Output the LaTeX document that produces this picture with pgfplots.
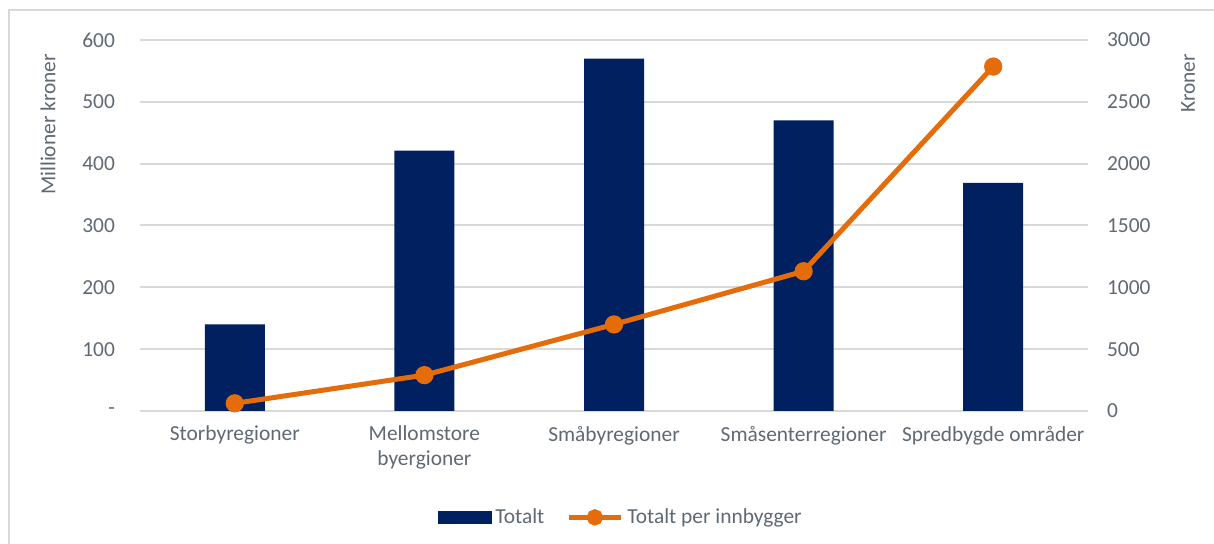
\documentclass[border=0pt]{standalone}
\usepackage{fontspec}
\setmainfont{Carlito}
\usepackage{pgfplots}
\pgfplotsset{compat=1.18}
\definecolor{barblue}{RGB}{0,32,96}
\definecolor{lineorange}{RGB}{228,108,10}
\definecolor{txtgrey}{RGB}{95,105,115}
\definecolor{gridgrey}{RGB}{217,217,217}
\begin{document}
\begin{tikzpicture}[x=1pt,y=1pt]
\useasboundingbox (0,0) rectangle (607,272);
\draw[gridgrey, line width=1pt] (4.5,0) -- (4.5,267) -- (607,267);
\begin{axis}[
  at={(70pt,66.5pt)}, anchor=south west,
  scale only axis, width=474pt, height=185.5pt,
  xmin=-0.5, xmax=4.5, ymin=0, ymax=600,
  xtick={0,1,2,3,4},
  xticklabels={Storbyregioner,{Mellomstore\\byergioner},Småbyregioner,Småsenterregioner,Spredbygde områder},
  xticklabel style={align=center, text=txtgrey, font=\fontsize{10.7}{12.5}\selectfont, yshift=-4pt},
  ytick={0,100,200,300,400,500,600},
  yticklabels={-,100,200,300,400,500,600},
  yticklabel style={text=txtgrey, font=\fontsize{10.7}{12.5}\selectfont, xshift=-9pt},
  axis line style={draw=none},
  major tick length=0pt,
  ymajorgrids, grid style={gridgrey, line width=1pt},
  clip=false,
]
\addplot[ybar, bar width=30pt, fill=barblue, draw=none, bar shift=0pt]
  coordinates {(0,140) (1,421) (2,570) (3,470) (4,369)};
\end{axis}
\begin{axis}[
  at={(70pt,66.5pt)}, anchor=south west,
  scale only axis, width=474pt, height=185.5pt,
  xmin=-0.5, xmax=4.5, ymin=0, ymax=3000,
  axis x line=none,
  axis y line*=right,
  axis line style={draw=none},
  major tick length=0pt,
  ytick={0,500,1000,1500,2000,2500,3000},
  yticklabel style={text=txtgrey, font=\fontsize{10.7}{12.5}\selectfont, xshift=6pt, /pgf/number format/assume math mode=true},
  scaled y ticks=false,
  y tick label style={/pgf/number format/1000 sep={}},
  clip=false,
  legend style={at={(0.508,-0.24)}, anchor=north, draw=none, fill=none,
    legend columns=2, font=\fontsize{10.7}{12.5}\selectfont, text=txtgrey,
    /tikz/every even column/.append style={column sep=9pt}},
  legend cell align=left,
]
\addlegendimage{legend image code/.code={\fill[barblue] (0pt,-3pt) rectangle (26.5pt,3pt);}}
\addlegendentry{Totalt}
\addplot[color=lineorange, line width=2.5pt, mark=*, mark size=3.3pt,
  legend image code/.code={\draw[lineorange, line width=2.5pt] (0pt,0pt) -- (26pt,0pt); \fill[lineorange] (13pt,0pt) circle (2.8pt);}]
  coordinates {(0,62) (1,290) (2,700) (3,1130) (4,2785)};
\addlegendentry{Totalt per innbygger}
\end{axis}
\node[rotate=90, anchor=east, text=txtgrey, font=\fontsize{10.7}{12.5}\selectfont] at (24,248.5) {Millioner kroner};
\node[rotate=90, anchor=east, text=txtgrey, font=\fontsize{10.7}{12.5}\selectfont] at (594,248.5) {Kroner};
\end{tikzpicture}
\end{document}
